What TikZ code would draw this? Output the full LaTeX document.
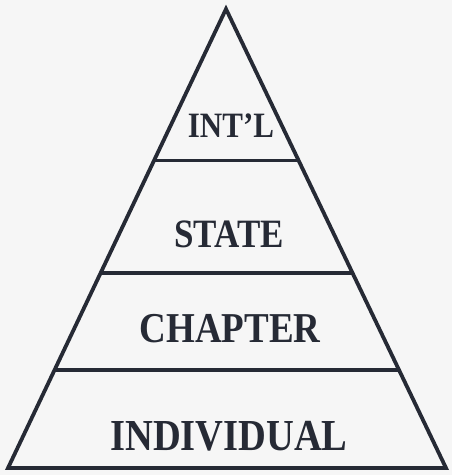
\documentclass[tikz,border=0pt]{standalone}
\usepackage{fontspec}
\setmainfont{Liberation Serif}
\usetikzlibrary{calc}
\definecolor{ink}{HTML}{262A35}
\definecolor{paper}{HTML}{F6F6F6}
\tikzset{
  edge/.style={draw=ink, line width=3.8pt, line join=miter},
  tier/.style={text=ink, inner sep=0pt, anchor=center}
}
\newcommand{\tiertext}[2]{\scalebox{1}[1.15]{\bfseries\fontsize{#1}{#1}\selectfont #2}}
\begin{document}
\begin{tikzpicture}[x=1pt, y=-1pt]
  \fill[paper] (0,0) rectangle (452,475);
  \useasboundingbox (0,0) rectangle (452,475);
  \coordinate (A) at (226,9);
  \coordinate (BL) at (8,468);
  \coordinate (BR) at (446,468);
  \draw[edge] (BL) -- (A) -- (BR) -- cycle;
  % level lines
  \coordinate (L1) at ($(A)!0.330!(BL)$);
  \coordinate (R1) at ($(A)!0.330!(BR)$);
  \coordinate (L2) at ($(A)!0.575!(BL)$);
  \coordinate (R2) at ($(A)!0.575!(BR)$);
  \coordinate (L3) at ($(A)!0.786!(BL)$);
  \coordinate (R3) at ($(A)!0.786!(BR)$);
  \draw[edge] (L1) -- (R1);
  \draw[edge] (L2) -- (R2);
  \draw[edge] (L3) -- (R3);
  % labels
  \node[tier] (intl) at (231,126) {\tiertext{31}{INT'L}};
  \node[tier] (state) at (229,234) {\tiertext{35}{STATE}};
  \node[tier] (chapter) at (230,329) {\tiertext{37}{CHAPTER}};
  \node[tier] (indiv) at (229,436) {\tiertext{38.5}{INDIVIDUAL}};
\end{tikzpicture}
\end{document}
